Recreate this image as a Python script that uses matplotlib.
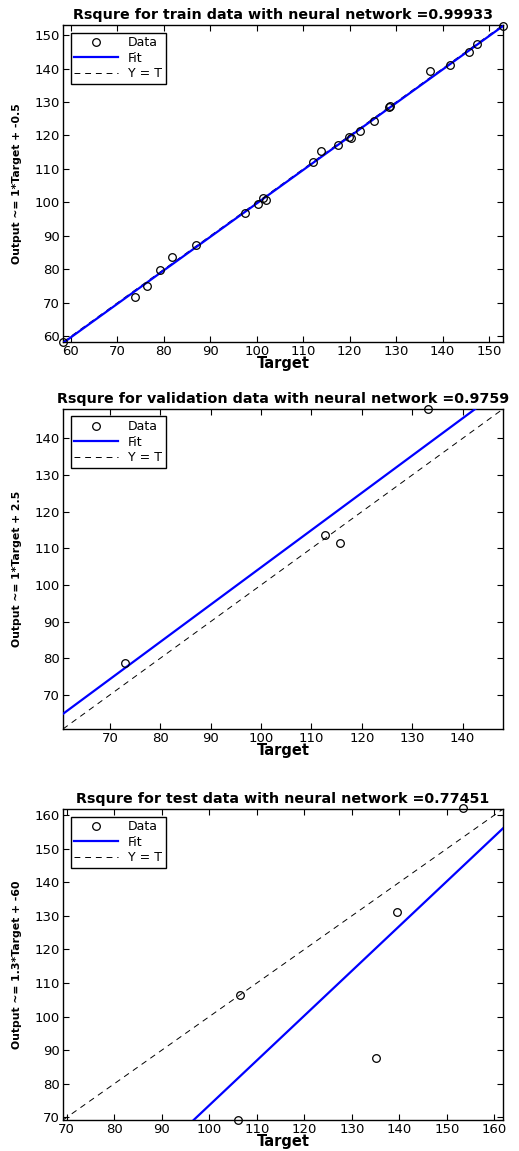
import matplotlib
matplotlib.use("Agg")
import matplotlib.pyplot as plt
import numpy as np

# train data (target, output)
train_t = [58.4, 73.9, 76.3, 79.2, 81.7, 87.0, 97.5, 100.2, 101.4, 102.0, 112.1, 113.8,
           117.5, 119.9, 120.2, 122.3, 125.3, 128.4, 128.7, 137.3, 141.6, 145.7, 147.4, 153.0]
train_o = [58.3, 71.8, 74.9, 79.8, 83.6, 87.4, 96.8, 99.5, 101.3, 100.7, 112.1, 115.3,
           117.1, 119.5, 119.3, 121.4, 124.4, 128.4, 128.7, 139.4, 141.0, 145.0, 147.2, 152.8]

# validation data
val_t = [73.0, 112.7, 115.6, 133.2]
val_o = [78.6, 113.7, 111.5, 148.1]

# test data
test_t = [106.0, 106.5, 135.0, 139.5, 153.4]
test_o = [69.2, 106.4, 87.6, 131.2, 162.0]

# fitted lines (slope, intercept)
fits = [(1.0, -0.3), (1.017, 3.1), (1.334, -59.8)]
limits = [(58.3, 153.0), (60.7, 148.0), (69.2, 161.8)]
tick_sets = [np.arange(60, 151, 10), np.arange(70, 141, 10), np.arange(70, 161, 10)]

titles = ["Rsqure for train data with neural network =0.99933",
          "Rsqure for validation data with neural network =0.9759",
          "Rsqure for test data with neural network =0.77451"]
ylabels = ["Output ~= 1*Target + -0.5",
           "Output ~= 1*Target + 2.5",
           "Output ~= 1.3*Target + -60"]

plt.rcParams["font.family"] = "DejaVu Sans"

W, H = 519, 1151
fig = plt.figure(figsize=(W / 100, H / 100), dpi=100)

# axes boxes in pixels: (left, top, right, bottom)
boxes = [(63, 25, 503, 342), (63, 409, 503, 729), (63, 809, 503, 1120)]

data = [(train_t, train_o), (val_t, val_o), (test_t, test_o)]

for i in range(3):
    l, t, r, b = boxes[i]
    ax = fig.add_axes([l / W, 1 - b / H, (r - l) / W, (b - t) / H])
    tt, oo = data[i]
    lo, hi = limits[i]
    xs = np.array([lo, hi])
    m, c = fits[i]

    ax.plot(tt, oo, "o", mfc="none", mec="black", ms=5.5, mew=0.9, label="Data", clip_on=False, zorder=4)
    ax.plot(xs, m * xs + c, color="#0000ff", lw=1.6, label="Fit", zorder=3)
    ax.plot(xs, xs, "--", color="black", lw=0.7, dashes=(6, 5), label="Y = T", zorder=2)

    ax.set_xlim(lo, hi)
    ax.set_ylim(lo, hi)
    ax.set_xticks(tick_sets[i])
    ax.set_yticks(tick_sets[i])
    ax.tick_params(direction="in", top=True, right=True, length=4, width=0.8, labelsize=9.5, pad=2)
    for s in ax.spines.values():
        s.set_linewidth(1.0)

    ax.set_title(titles[i], fontsize=10.3, fontweight="bold", pad=4)
    ax.set_xlabel("Target", fontsize=10.5, fontweight="bold", labelpad=-1)
    ax.set_ylabel(ylabels[i], fontsize=7.8, fontweight="bold", labelpad=9)

    leg = ax.legend(loc="upper left", fontsize=9, handlelength=3.5, labelspacing=0.2,
                    borderpad=0.3, handletextpad=0.8, fancybox=False, framealpha=1,
                    edgecolor="black", borderaxespad=0.6)
    leg.get_frame().set_linewidth(1.0)

fig.savefig("out.png", dpi=100)
